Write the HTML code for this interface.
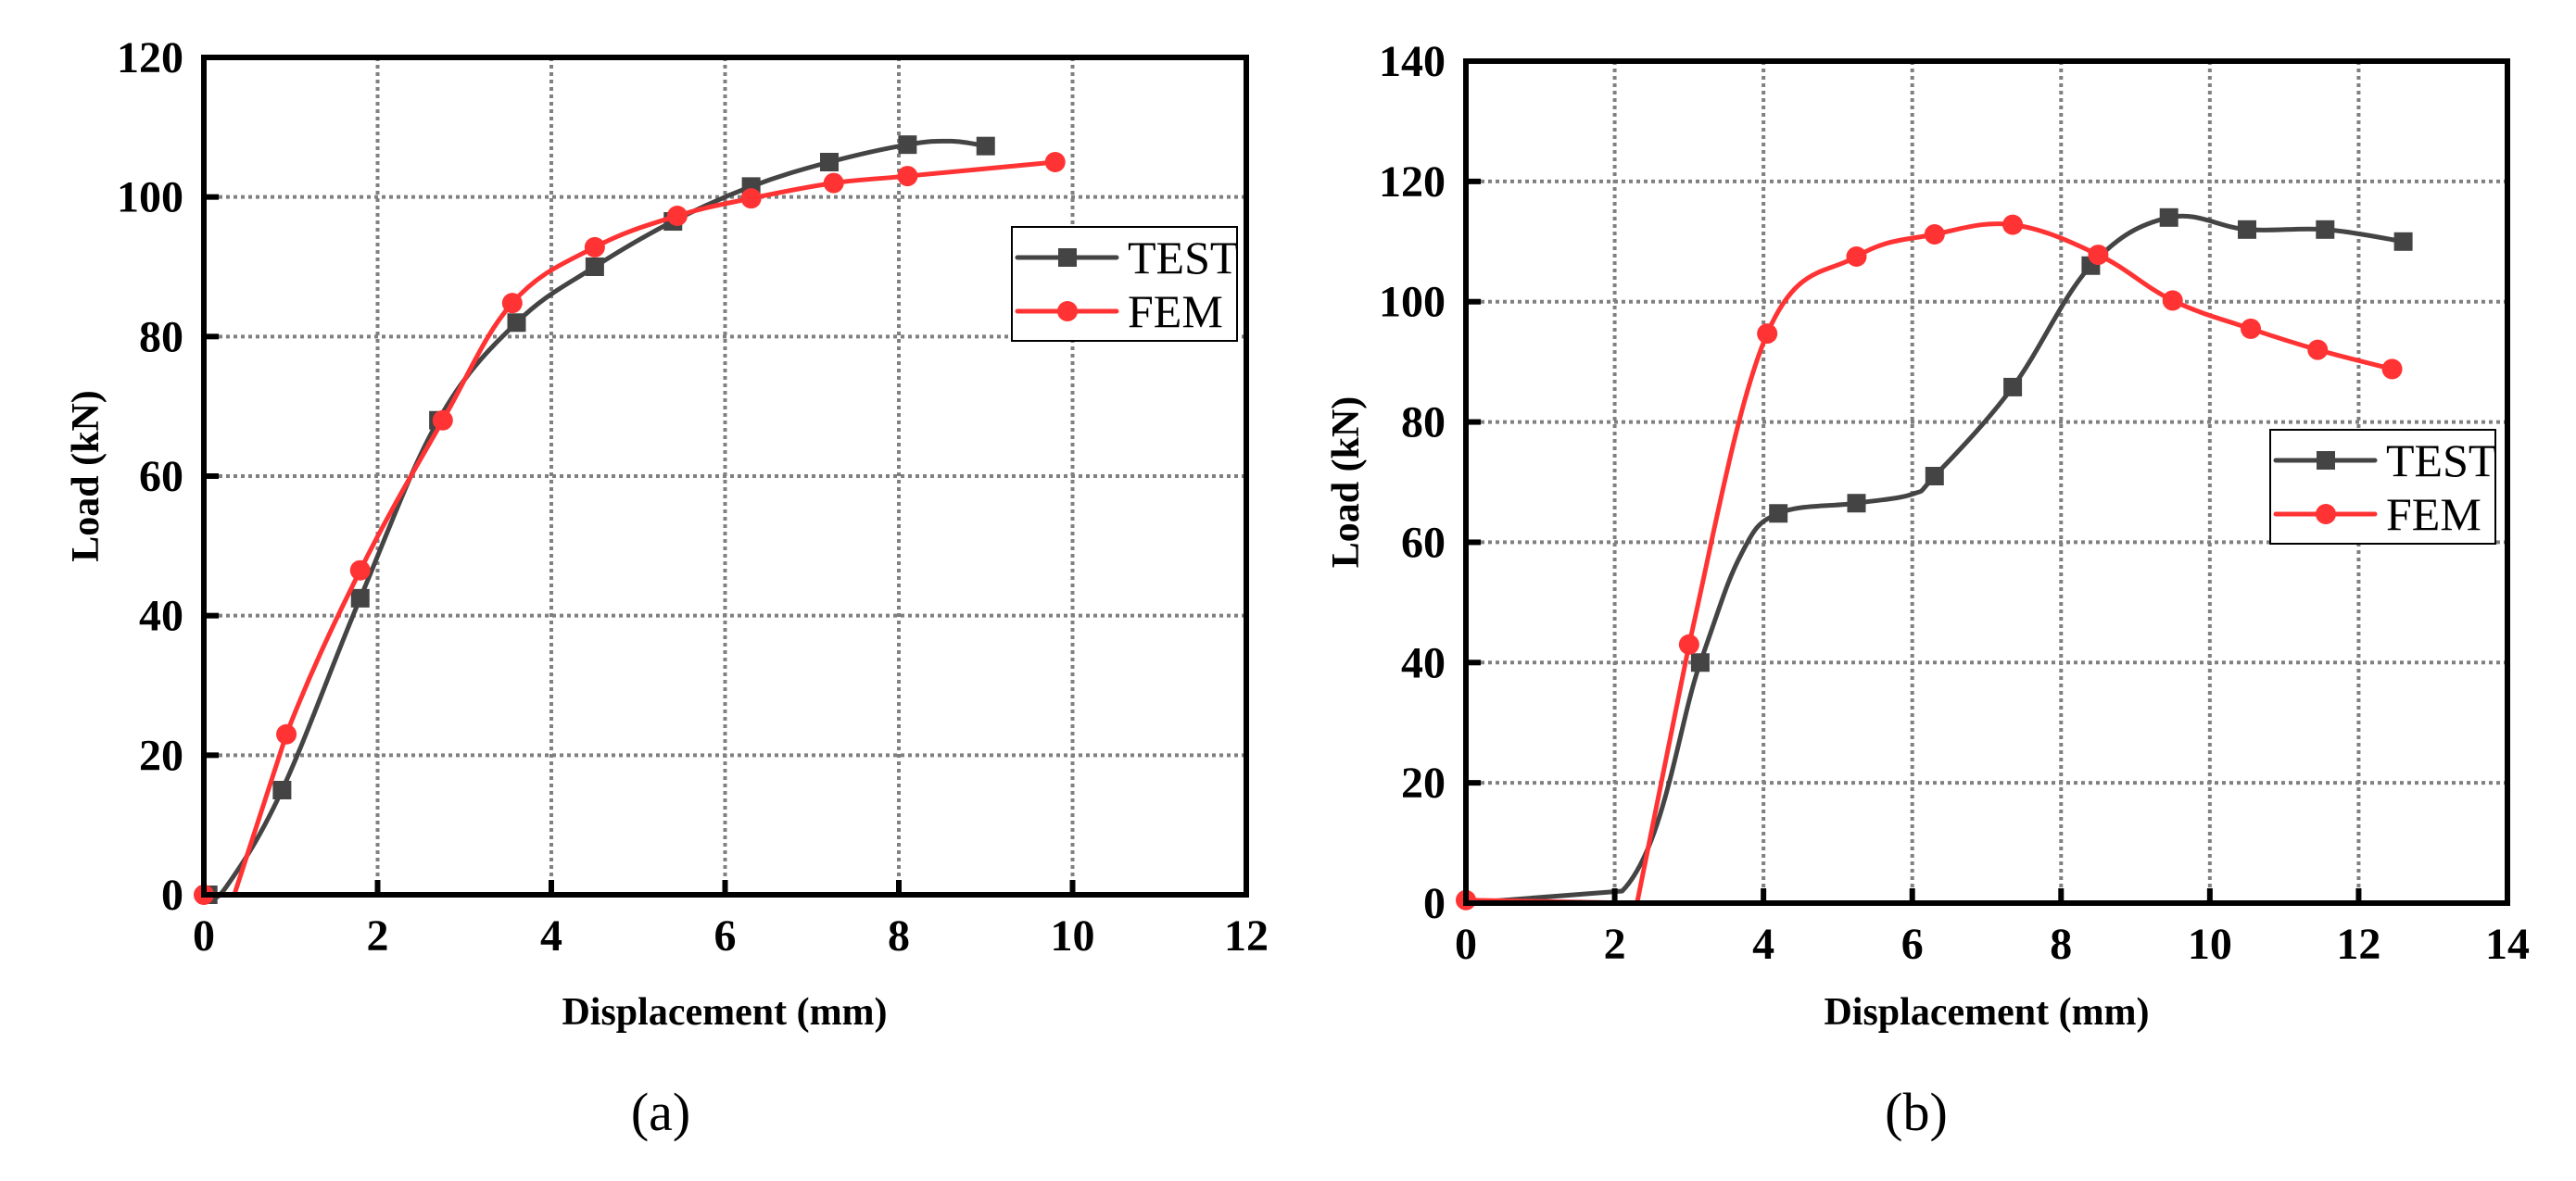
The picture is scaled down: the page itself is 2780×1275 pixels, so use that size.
<!DOCTYPE html>
<html><head><meta charset="utf-8">
<style>
html,body{margin:0;padding:0;background:#fff;}
svg{display:block;font-family:"Liberation Serif","DejaVu Serif",serif;}
svg text{font-family:"Liberation Serif","DejaVu Serif",serif;}
</style></head>
<body>
<svg id="fig" width="2780" height="1275" viewBox="0 0 2780 1275" xmlns="http://www.w3.org/2000/svg" font-family="Liberation Serif, DejaVu Serif, serif"></svg>
<script>
// Chart (a)
const aTestX = [0.05, 0.25, 0.9, 1.8, 2.7, 3.6, 4.5, 5.4, 6.3, 7.2, 8.1, 8.6, 9.0];
const aTestY = [0, 1, 15, 42.5, 68, 82, 90, 96.5, 101.5, 105, 107.5, 108, 107.3];
const aTestMarks = [0, 2, 3, 4, 5, 6, 7, 8, 9, 10, 12];
const aFemX = [0, 0.35, 0.95, 1.8, 2.75, 3.55, 4.5, 5.45, 6.3, 7.25, 8.1, 9.8];
const aFemY = [0, 0, 23, 46.5, 68, 84.8, 92.8, 97.3, 99.8, 102, 103, 105];
const aFemMarks = [0, 2, 3, 4, 5, 6, 7, 8, 9, 10, 11];
const aXTicks = [0, 2, 4, 6, 8, 10, 12];
const aYTicks = [0, 20, 40, 60, 80, 100, 120];
// Chart (b)
const bTestX = [0, 2.1, 3.15, 3.7, 4.2, 5.25, 6.0, 6.3, 7.35, 8.4, 9.45, 10.5, 11.55, 12.6];
const bTestY = [0, 2, 40, 58, 64.8, 66.5, 68, 71, 85.8, 106, 114, 112, 112, 110];
const bTestMarks = [2, 4, 5, 7, 8, 9, 10, 11, 12, 13];
const bFemX = [0, 2.3, 3.0, 4.05, 5.25, 6.3, 7.35, 8.5, 9.5, 10.55, 11.45, 12.45];
const bFemY = [0.5, 0, 43, 94.7, 107.5, 111.2, 112.8, 107.8, 100.2, 95.5, 92, 88.8];
const bFemMarks = [0, 2, 3, 4, 5, 6, 7, 8, 9, 10, 11];
const bXTicks = [0, 2, 4, 6, 8, 10, 12, 14];
const bYTicks = [0, 20, 40, 60, 80, 100, 120, 140];

const NS = "http://www.w3.org/2000/svg";
const FONT = '"Liberation Serif", "DejaVu Serif", serif';
const svg = document.getElementById('fig');
function mk(tag, attrs, parent){
  const e = document.createElementNS(NS, tag);
  for (const k in attrs) e.setAttribute(k, attrs[k]);
  if (tag === 'text') e.style.fontFamily = FONT;
  (parent||svg).appendChild(e);
  return e;
}
function splinePath(pts, straight){
  let d = `M${pts[0][0]},${pts[0][1]}`;
  for (let i=0;i<pts.length-1;i++){
    const p0=pts[Math.max(0,i-1)], p1=pts[i], p2=pts[i+1], p3=pts[Math.min(pts.length-1,i+2)];
    if (straight.includes(i)) { d += ` L${p2[0]},${p2[1]}`; continue; }
    const t=0.18;
    const c1=[p1[0]+(p2[0]-p0[0])*t, p1[1]+(p2[1]-p0[1])*t];
    const c2=[p2[0]-(p3[0]-p1[0])*t, p2[1]-(p3[1]-p1[1])*t];
    d += ` C${c1[0]},${c1[1]} ${c2[0]},${c2[1]} ${p2[0]},${p2[1]}`;
  }
  return d;
}
function chart(cfg){
  const g = mk('g', {});
  
  
  const sx = v => cfg.x0 + (v - 0) / cfg.xmax * (cfg.x1 - cfg.x0);
  const sy = v => cfg.y0 - v / cfg.ymax * (cfg.y0 - cfg.y1);
  cfg.xTicks.forEach(t => {
    if (t===0 || t===cfg.xmax) return;
    const l = mk('line', {x1:sx(t), x2:sx(t), y1:cfg.y1, y2:cfg.y0, stroke:'#808080', 'stroke-width':4, 'stroke-dasharray':'4 4'}, g);
    
    
  });
  cfg.yTicks.forEach(t => {
    if (t===0 || t===cfg.ymax) return;
    const l = mk('line', {x1:cfg.x0, x2:cfg.x1, y1:sy(t), y2:sy(t), stroke:'#808080', 'stroke-width':4, 'stroke-dasharray':'4 4'}, g);
    
    
  });
  cfg.series.forEach(s => {
    const pts = s.xs.map((x,i)=>[sx(x), sy(s.ys[i])]);
    const p = mk('path', {d:splinePath(pts, s.straight), fill:'none', stroke:s.color, 'stroke-width':5, 'stroke-linejoin':'round'}, g);
    
    
    s.marks.forEach(i => {
      let m;
      if (s.shape==='square') m = mk('rect', {x:pts[i][0]-10, y:pts[i][1]-10, width:20, height:20, fill:s.color}, g);
      else m = mk('circle', {cx:pts[i][0], cy:pts[i][1], r:11, fill:s.color}, g);
      
      
    });
  });
  const f = mk('rect', {x:cfg.x0, y:cfg.y1, width:cfg.x1-cfg.x0, height:cfg.y0-cfg.y1, fill:'none', stroke:'#000', 'stroke-width':6}, g);
  
  
  cfg.xTicks.forEach(t => {
    mk('line', {x1:sx(t), x2:sx(t), y1:cfg.y0, y2:cfg.y0-16, stroke:'#000', 'stroke-width':6}, g);
    const tx = mk('text', {x:sx(t), y:cfg.y0+60, 'font-size':48, 'font-weight':'bold', 'text-anchor':'middle'}, g);
    tx.textContent = t;
    
    
  });
  cfg.yTicks.forEach(t => {
    mk('line', {x1:cfg.x0, x2:cfg.x0+16, y1:sy(t), y2:sy(t), stroke:'#000', 'stroke-width':6}, g);
    const tx = mk('text', {x:cfg.x0-22, y:sy(t)+16, 'font-size':48, 'font-weight':'bold', 'text-anchor':'end'}, g);
    tx.textContent = t;
    
    
  });
  const xt = mk('text', {x:cfg.xTitleX, y:1106, 'font-size':42, 'font-weight':'bold', 'text-anchor':'middle'}, g);
  xt.textContent = 'Displacement (mm)';
  
  
  const yt = mk('text', {x:0, y:0, 'font-size':42, 'font-weight':'bold', 'text-anchor':'middle', transform:`translate(${cfg.yTitleX},${(cfg.y0+cfg.y1)/2}) rotate(-90)`}, g);
  yt.textContent = 'Load (kN)';
  
  
  const cap = mk('text', {x:cfg.capX, y:1220, 'font-size':58, 'text-anchor':'middle'}, g);
  cap.textContent = cfg.caption;
  
  
  const L = cfg.legend;
  const lg = mk('g', {}, g);
  
  
  mk('rect', {x:L.x, y:L.y, width:243, height:123, fill:'#fff', stroke:'#000', 'stroke-width':2}, lg);
  cfg.series.forEach((s, k) => {
    const yy = L.y + 33 + k*58;
    const e = mk('g', {}, lg);
    
    
    mk('line', {x1:L.x+6, x2:L.x+113, y1:yy, y2:yy, stroke:s.color, 'stroke-width':5, 'stroke-linecap':'round'}, e);
    if (s.shape==='square') mk('rect', {x:L.x+50, y:yy-10, width:20, height:20, fill:s.color}, e);
    else mk('circle', {cx:L.x+60, cy:yy, r:11, fill:s.color}, e);
    const t = mk('text', {x:L.x+125, y:yy+17, 'font-size':50}, e);
    t.textContent = s.label;
  });
}
chart({name:'chart-a', x0:220, x1:1345, y0:966, y1:62, xmax:12, ymax:120,
  xTicks:aXTicks, yTicks:aYTicks, xTitleX:782, yTitleX:106, capX:713, caption:'(a)',
  legend:{x:1092, y:245},
  series:[
    {key:'test', label:'TEST', color:'#444444', shape:'square', xs:aTestX, ys:aTestY, marks:aTestMarks, straight:[]},
    {key:'fem', label:'FEM', color:'#ff3333', shape:'circle', xs:aFemX, ys:aFemY, marks:aFemMarks, straight:[0,1]}
  ]});
chart({name:'chart-b', x0:1582, x1:2706, y0:975, y1:66, xmax:14, ymax:140,
  xTicks:bXTicks, yTicks:bYTicks, xTitleX:2144, yTitleX:1466, capX:2068, caption:'(b)',
  legend:{x:2450, y:464},
  series:[
    {key:'test', label:'TEST', color:'#444444', shape:'square', xs:bTestX, ys:bTestY, marks:bTestMarks, straight:[0]},
    {key:'fem', label:'FEM', color:'#ff3333', shape:'circle', xs:bFemX, ys:bFemY, marks:bFemMarks, straight:[0,1]}
  ]});
</script>
</body></html>
